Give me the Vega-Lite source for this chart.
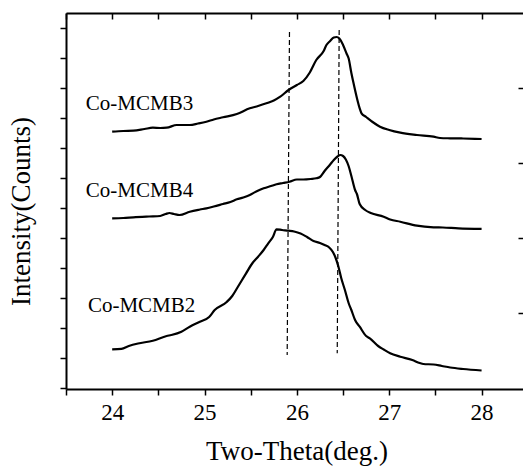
{
  "$schema": "https://vega.github.io/schema/vega-lite/v6.json",
  "width": 457,
  "height": 376,
  "autosize": {"type": "none"},
  "padding": {"left": 66, "top": 13, "right": 0, "bottom": 78},
  "background": "white",
  "config": {"view": {"stroke": null}, "axis": {"grid": false}},
  "datasets": {
    "curves": [
      {"s": "Co-MCMB3", "t": 24.00, "v": 256.3}, {"s": "Co-MCMB3", "t": 24.12, "v": 257}, {"s": "Co-MCMB3", "t": 24.23, "v": 257.3}, {"s": "Co-MCMB3", "t": 24.35, "v": 259}, {"s": "Co-MCMB3", "t": 24.44, "v": 260.3}, {"s": "Co-MCMB3", "t": 24.52, "v": 260}, {"s": "Co-MCMB3", "t": 24.59, "v": 260.3}, {"s": "Co-MCMB3", "t": 24.70, "v": 263}, {"s": "Co-MCMB3", "t": 24.84, "v": 263}, {"s": "Co-MCMB3", "t": 24.93, "v": 264.5}, {"s": "Co-MCMB3", "t": 25.02, "v": 266.3}, {"s": "Co-MCMB3", "t": 25.10, "v": 268.5}, {"s": "Co-MCMB3", "t": 25.20, "v": 270.7}, {"s": "Co-MCMB3", "t": 25.35, "v": 274}, {"s": "Co-MCMB3", "t": 25.49, "v": 279.7}, {"s": "Co-MCMB3", "t": 25.58, "v": 282}, {"s": "Co-MCMB3", "t": 25.67, "v": 284.7}, {"s": "Co-MCMB3", "t": 25.75, "v": 287.5}, {"s": "Co-MCMB3", "t": 25.82, "v": 291.3}, {"s": "Co-MCMB3", "t": 25.91, "v": 298}, {"s": "Co-MCMB3", "t": 26.00, "v": 303}, {"s": "Co-MCMB3", "t": 26.07, "v": 307}, {"s": "Co-MCMB3", "t": 26.14, "v": 315.5}, {"s": "Co-MCMB3", "t": 26.21, "v": 328}, {"s": "Co-MCMB3", "t": 26.29, "v": 337}, {"s": "Co-MCMB3", "t": 26.32, "v": 343}, {"s": "Co-MCMB3", "t": 26.36, "v": 347}, {"s": "Co-MCMB3", "t": 26.40, "v": 350.5}, {"s": "Co-MCMB3", "t": 26.43, "v": 351}, {"s": "Co-MCMB3", "t": 26.46, "v": 349.5}, {"s": "Co-MCMB3", "t": 26.50, "v": 343}, {"s": "Co-MCMB3", "t": 26.54, "v": 334}, {"s": "Co-MCMB3", "t": 26.56, "v": 329.7}, {"s": "Co-MCMB3", "t": 26.59, "v": 315}, {"s": "Co-MCMB3", "t": 26.61, "v": 306.3}, {"s": "Co-MCMB3", "t": 26.65, "v": 290}, {"s": "Co-MCMB3", "t": 26.68, "v": 279.7}, {"s": "Co-MCMB3", "t": 26.70, "v": 274.7}, {"s": "Co-MCMB3", "t": 26.75, "v": 271}, {"s": "Co-MCMB3", "t": 26.82, "v": 266}, {"s": "Co-MCMB3", "t": 26.90, "v": 261.3}, {"s": "Co-MCMB3", "t": 27.00, "v": 258}, {"s": "Co-MCMB3", "t": 27.12, "v": 255.3}, {"s": "Co-MCMB3", "t": 27.30, "v": 253}, {"s": "Co-MCMB3", "t": 27.48, "v": 251.3}, {"s": "Co-MCMB3", "t": 27.55, "v": 250}, {"s": "Co-MCMB3", "t": 27.66, "v": 249.7}, {"s": "Co-MCMB3", "t": 27.80, "v": 249.5}, {"s": "Co-MCMB3", "t": 28.00, "v": 249},
      {"s": "Co-MCMB4", "t": 24.00, "v": 169.7}, {"s": "Co-MCMB4", "t": 24.12, "v": 170}, {"s": "Co-MCMB4", "t": 24.23, "v": 170.7}, {"s": "Co-MCMB4", "t": 24.40, "v": 171.5}, {"s": "Co-MCMB4", "t": 24.52, "v": 172}, {"s": "Co-MCMB4", "t": 24.58, "v": 174}, {"s": "Co-MCMB4", "t": 24.62, "v": 175}, {"s": "Co-MCMB4", "t": 24.67, "v": 174}, {"s": "Co-MCMB4", "t": 24.73, "v": 173}, {"s": "Co-MCMB4", "t": 24.84, "v": 176.3}, {"s": "Co-MCMB4", "t": 24.95, "v": 178.5}, {"s": "Co-MCMB4", "t": 25.02, "v": 179.7}, {"s": "Co-MCMB4", "t": 25.10, "v": 181.5}, {"s": "Co-MCMB4", "t": 25.20, "v": 184}, {"s": "Co-MCMB4", "t": 25.28, "v": 186}, {"s": "Co-MCMB4", "t": 25.35, "v": 188.7}, {"s": "Co-MCMB4", "t": 25.42, "v": 190.5}, {"s": "Co-MCMB4", "t": 25.49, "v": 193}, {"s": "Co-MCMB4", "t": 25.56, "v": 196.5}, {"s": "Co-MCMB4", "t": 25.64, "v": 199.7}, {"s": "Co-MCMB4", "t": 25.72, "v": 202}, {"s": "Co-MCMB4", "t": 25.78, "v": 203.7}, {"s": "Co-MCMB4", "t": 25.85, "v": 205}, {"s": "Co-MCMB4", "t": 25.92, "v": 206.3}, {"s": "Co-MCMB4", "t": 26.00, "v": 208.5}, {"s": "Co-MCMB4", "t": 26.07, "v": 208.5}, {"s": "Co-MCMB4", "t": 26.15, "v": 209}, {"s": "Co-MCMB4", "t": 26.21, "v": 209.7}, {"s": "Co-MCMB4", "t": 26.25, "v": 211}, {"s": "Co-MCMB4", "t": 26.30, "v": 217}, {"s": "Co-MCMB4", "t": 26.36, "v": 223.5}, {"s": "Co-MCMB4", "t": 26.40, "v": 228}, {"s": "Co-MCMB4", "t": 26.44, "v": 231.5}, {"s": "Co-MCMB4", "t": 26.47, "v": 233}, {"s": "Co-MCMB4", "t": 26.50, "v": 232}, {"s": "Co-MCMB4", "t": 26.53, "v": 228.5}, {"s": "Co-MCMB4", "t": 26.56, "v": 222}, {"s": "Co-MCMB4", "t": 26.59, "v": 212}, {"s": "Co-MCMB4", "t": 26.63, "v": 198}, {"s": "Co-MCMB4", "t": 26.65, "v": 194}, {"s": "Co-MCMB4", "t": 26.68, "v": 184}, {"s": "Co-MCMB4", "t": 26.74, "v": 178}, {"s": "Co-MCMB4", "t": 26.80, "v": 175}, {"s": "Co-MCMB4", "t": 26.94, "v": 171.3}, {"s": "Co-MCMB4", "t": 27.01, "v": 168.5}, {"s": "Co-MCMB4", "t": 27.12, "v": 166.3}, {"s": "Co-MCMB4", "t": 27.30, "v": 162.3}, {"s": "Co-MCMB4", "t": 27.48, "v": 160.7}, {"s": "Co-MCMB4", "t": 27.58, "v": 160.5}, {"s": "Co-MCMB4", "t": 27.75, "v": 159.7}, {"s": "Co-MCMB4", "t": 28.00, "v": 159.2},
      {"s": "Co-MCMB2", "t": 24.00, "v": 38.7}, {"s": "Co-MCMB2", "t": 24.10, "v": 39.2}, {"s": "Co-MCMB2", "t": 24.18, "v": 42}, {"s": "Co-MCMB2", "t": 24.28, "v": 44.5}, {"s": "Co-MCMB2", "t": 24.44, "v": 47.3}, {"s": "Co-MCMB2", "t": 24.59, "v": 52}, {"s": "Co-MCMB2", "t": 24.64, "v": 53}, {"s": "Co-MCMB2", "t": 24.75, "v": 56.3}, {"s": "Co-MCMB2", "t": 24.84, "v": 61.3}, {"s": "Co-MCMB2", "t": 24.95, "v": 66.3}, {"s": "Co-MCMB2", "t": 25.05, "v": 71}, {"s": "Co-MCMB2", "t": 25.11, "v": 78}, {"s": "Co-MCMB2", "t": 25.24, "v": 86}, {"s": "Co-MCMB2", "t": 25.30, "v": 92}, {"s": "Co-MCMB2", "t": 25.36, "v": 101}, {"s": "Co-MCMB2", "t": 25.45, "v": 114.7}, {"s": "Co-MCMB2", "t": 25.52, "v": 125}, {"s": "Co-MCMB2", "t": 25.58, "v": 131.3}, {"s": "Co-MCMB2", "t": 25.64, "v": 138}, {"s": "Co-MCMB2", "t": 25.69, "v": 144.7}, {"s": "Co-MCMB2", "t": 25.74, "v": 151}, {"s": "Co-MCMB2", "t": 25.78, "v": 158.7}, {"s": "Co-MCMB2", "t": 25.84, "v": 158}, {"s": "Co-MCMB2", "t": 25.91, "v": 157.3}, {"s": "Co-MCMB2", "t": 25.97, "v": 156.5}, {"s": "Co-MCMB2", "t": 26.04, "v": 154.5}, {"s": "Co-MCMB2", "t": 26.11, "v": 151}, {"s": "Co-MCMB2", "t": 26.18, "v": 147}, {"s": "Co-MCMB2", "t": 26.25, "v": 145}, {"s": "Co-MCMB2", "t": 26.30, "v": 143}, {"s": "Co-MCMB2", "t": 26.35, "v": 140.5}, {"s": "Co-MCMB2", "t": 26.39, "v": 136}, {"s": "Co-MCMB2", "t": 26.42, "v": 130}, {"s": "Co-MCMB2", "t": 26.45, "v": 121.3}, {"s": "Co-MCMB2", "t": 26.48, "v": 110}, {"s": "Co-MCMB2", "t": 26.52, "v": 98}, {"s": "Co-MCMB2", "t": 26.56, "v": 85}, {"s": "Co-MCMB2", "t": 26.59, "v": 78}, {"s": "Co-MCMB2", "t": 26.63, "v": 68}, {"s": "Co-MCMB2", "t": 26.68, "v": 61.3}, {"s": "Co-MCMB2", "t": 26.75, "v": 52}, {"s": "Co-MCMB2", "t": 26.79, "v": 49.7}, {"s": "Co-MCMB2", "t": 26.88, "v": 42}, {"s": "Co-MCMB2", "t": 26.94, "v": 38.5}, {"s": "Co-MCMB2", "t": 27.01, "v": 34.7}, {"s": "Co-MCMB2", "t": 27.12, "v": 31.3}, {"s": "Co-MCMB2", "t": 27.25, "v": 28}, {"s": "Co-MCMB2", "t": 27.33, "v": 25}, {"s": "Co-MCMB2", "t": 27.37, "v": 24}, {"s": "Co-MCMB2", "t": 27.48, "v": 23.5}, {"s": "Co-MCMB2", "t": 27.57, "v": 22}, {"s": "Co-MCMB2", "t": 27.66, "v": 20.5}, {"s": "Co-MCMB2", "t": 27.80, "v": 19}, {"s": "Co-MCMB2", "t": 28.00, "v": 17.5}
    ],
    "refs": [
      {"t": 25.92, "v": 356, "t2": 25.895, "v2": 33},
      {"t": 26.458, "v": 358, "t2": 26.437, "v2": 34.7}
    ],
    "labels": [
      {"label": "Co-MCMB3", "t": 23.715, "v": 278},
      {"label": "Co-MCMB4", "t": 23.715, "v": 191},
      {"label": "Co-MCMB2", "t": 23.737, "v": 76.5}
    ]
  },
  "resolve": {"axis": {"x": "independent", "y": "independent"}},
  "layer": [
    {
      "data": {"name": "curves"},
      "mark": {"type": "line", "color": "black", "strokeWidth": 2.2, "interpolate": "monotone", "clip": true},
      "encoding": {
        "x": {
          "field": "t", "type": "quantitative",
          "scale": {"domain": [23.5, 28.4485], "nice": false, "zero": false},
          "axis": {
            "orient": "bottom",
            "values": [23.5, 24, 24.5, 25, 25.5, 26, 26.5, 27, 27.5, 28],
            "labelExpr": "datum.value % 1 == 0 ? format(datum.value, 'd') : ''",
            "labelFont": "Liberation Serif", "labelFontSize": 23, "labelColor": "black",
            "labelPadding": 6, "labelFlush": false, "labelOverlap": false,
            "tickSize": 6, "tickWidth": 1.5, "tickColor": "black",
            "domainColor": "black", "domainWidth": 2,
            "title": "Two-Theta(deg.)",
            "titleFont": "Liberation Serif", "titleFontSize": 27, "titleFontWeight": "normal", "titleColor": "black",
            "titleX": 230.5, "titleY": 70.5, "titleAlign": "center", "titleBaseline": "alphabetic"
          }
        },
        "y": {
          "field": "v", "type": "quantitative",
          "scale": {"domain": [-1, 375], "nice": false, "zero": false},
          "axis": {
            "orient": "left",
            "values": [0, 30, 60, 90, 120, 150, 180, 210, 240, 270, 300, 330, 360],
            "labels": false,
            "tickSize": 6, "tickWidth": 1.5, "tickColor": "black",
            "domainColor": "black", "domainWidth": 2,
            "title": "Intensity(Counts)",
            "titleFont": "Liberation Serif", "titleFontSize": 27, "titleFontWeight": "normal", "titleColor": "black",
            "titleAngle": 270, "titleX": -37, "titleY": 198, "titleAlign": "center", "titleBaseline": "alphabetic"
          }
        },
        "detail": {"field": "s"}
      }
    },
    {
      "data": {"name": "refs"},
      "mark": {"type": "rule", "color": "black", "strokeWidth": 1.2, "strokeDash": [5, 3]},
      "encoding": {
        "x": {
          "field": "t", "type": "quantitative",
          "axis": {
            "orient": "top",
            "values": [23.5, 24, 24.5, 25, 25.5, 26, 26.5, 27, 27.5, 28],
            "labels": false, "title": null,
            "tickSize": -6, "tickWidth": 1.5, "tickColor": "black",
            "domainColor": "black", "domainWidth": 2
          }
        },
        "x2": {"field": "t2"},
        "y": {
          "field": "v", "type": "quantitative",
          "axis": {
            "orient": "right",
            "values": [75, 150, 225, 300],
            "labels": false, "title": null, "domain": false,
            "tickSize": -5, "tickWidth": 1.5, "tickColor": "black"
          }
        },
        "y2": {"field": "v2"}
      }
    },
    {
      "data": {"name": "labels"},
      "mark": {"type": "text", "align": "left", "baseline": "alphabetic", "font": "Liberation Serif", "fontSize": 21, "color": "black"},
      "encoding": {
        "x": {"field": "t", "type": "quantitative", "axis": null},
        "y": {"field": "v", "type": "quantitative", "axis": null},
        "text": {"field": "label"}
      }
    }
  ]
}
